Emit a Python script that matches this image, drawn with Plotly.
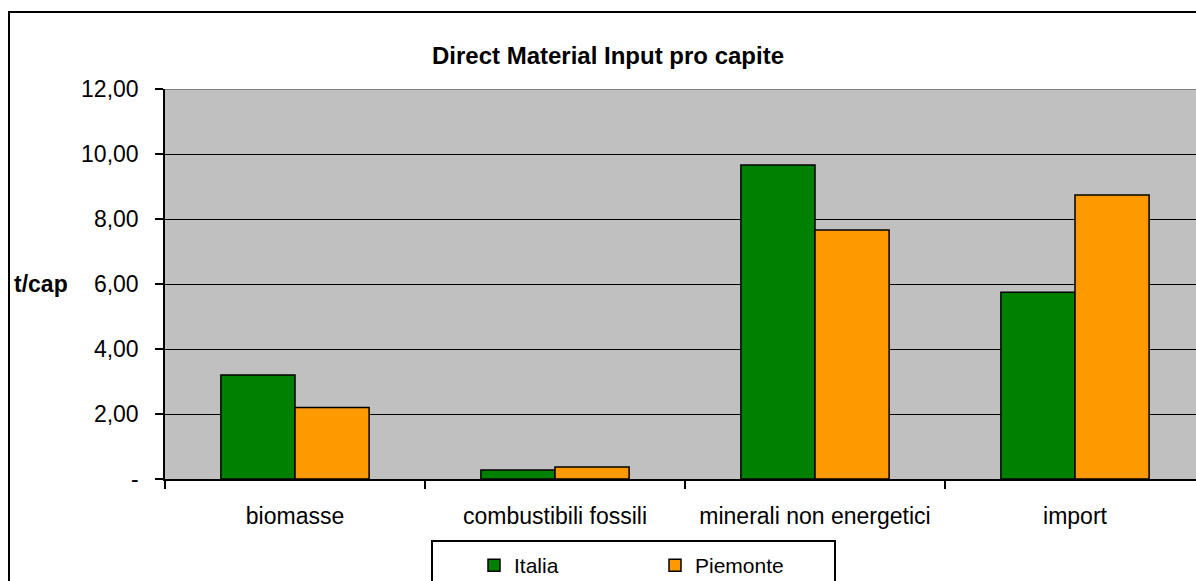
import plotly.graph_objects as go

categories = ["biomasse", "combustibili fossili", "minerali non energetici", "import"]
italia = [3.20, 0.28, 9.66, 5.75]
piemonte = [2.20, 0.37, 7.66, 8.74]
y_tickvals = [0, 2, 4, 6, 8, 10, 12]
y_ticktext = ["-", "2,00", "4,00", "6,00", "8,00", "10,00", "12,00"]

W, H = 1196, 581
L, T, B, R = 165, 89, 102, 0
pw = W - L - R
ph = H - T - B

FONT = "Liberation Sans, Arial, sans-serif"

fig = go.Figure()
fig.add_trace(go.Bar(x=categories, y=italia, name="Italia",
                     marker=dict(color="#008000", line=dict(color="black", width=1.5))))
fig.add_trace(go.Bar(x=categories, y=piemonte, name="Piemonte",
                     marker=dict(color="#FF9900", line=dict(color="black", width=1.5))))

def px_x(x):
    return (x - L) / pw

def px_y(y):
    return (H - B - y) / ph

fig.update_layout(
    width=W, height=H,
    margin=dict(l=L, r=R, t=T, b=B, pad=0, autoexpand=False),
    paper_bgcolor="white",
    plot_bgcolor="#C0C0C0",
    barmode="group",
    bargap=0.43,
    bargroupgap=0,
    font=dict(family=FONT, size=22, color="black"),
    title=dict(text="<b>Direct Material Input pro capite</b>",
               x=608 / W, xanchor="center", y=1 - 56 / H, yanchor="middle",
               font=dict(size=24, family=FONT, color="black")),
    xaxis=dict(range=[-0.5, -0.5 + pw / 260], type="category",
               showline=True, linecolor="black", linewidth=1.5,
               ticks="outside", ticklen=8, tickcolor="black", tickwidth=1.5,
               tickson="boundaries", showgrid=False,
               ticklabelstandoff=16, tickfont=dict(size=23)),
    yaxis=dict(range=[0, 12], tickvals=y_tickvals, ticktext=y_ticktext,
               showline=True, linecolor="black", linewidth=1.5,
               ticks="outside", ticklen=8, tickcolor="black", tickwidth=1.5,
               showgrid=True, gridcolor="black", gridwidth=1,
               zeroline=False, ticklabelstandoff=12, tickfont=dict(size=23)),
    legend=dict(orientation="h", x=px_x(474), xanchor="left",
                y=px_y(545), yanchor="top",
                borderwidth=0, bgcolor="rgba(0,0,0,0)",
                entrywidth=136, entrywidthmode="pixels",
                font=dict(size=21), itemwidth=30),
    showlegend=True,
)

# top border of plot area (grey)
fig.add_shape(type="line", xref="paper", yref="y", x0=0, x1=1, y0=12, y1=12,
              line=dict(color="#808080", width=2), layer="above")
# outer chart frame
fig.add_shape(type="rect", xref="paper", yref="paper",
              x0=px_x(9), x1=px_x(1210), y0=px_y(600), y1=px_y(12),
              line=dict(color="black", width=2), layer="below")
# legend frame
fig.add_shape(type="rect", xref="paper", yref="paper",
              x0=px_x(432), x1=px_x(835), y0=px_y(600), y1=px_y(541),
              line=dict(color="black", width=2), fillcolor="white", layer="below")

fig.add_annotation(text="<b>t/cap</b>", xref="paper", yref="y",
                   x=px_x(12), xanchor="left", y=6, yanchor="middle",
                   showarrow=False, font=dict(size=23, family=FONT, color="black"))

fig.write_html("out.html", config={"displayModeBar": False},
               post_script="document.body.style.margin='0';")
